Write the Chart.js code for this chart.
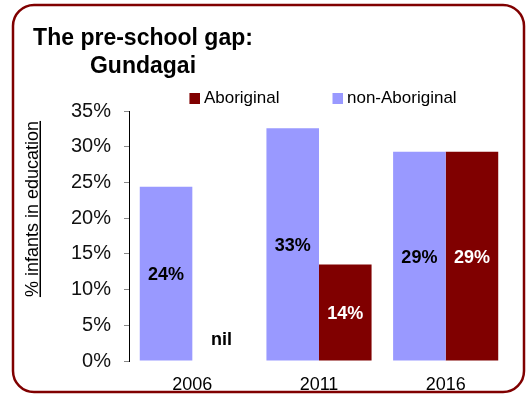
<!DOCTYPE html>
<html><head><meta charset="utf-8">
<script src="https://cdn.jsdelivr.net/npm/chart.js@4"></script>
<style>html,body{margin:0;padding:0;background:#fff;overflow:hidden}canvas{display:block}</style>
</head><body>
<canvas id="c" width="531" height="394"></canvas>
<script>
const titleLines = ['The pre-school gap:', 'Gundagai'];
const axisTitle = '% infants in education';
const categories = ['2006', '2011', '2016'];
const seriesNames = ['non-Aboriginal', 'Aboriginal'];
const nonAboriginal = [24.4, 32.6, 29.3];
const aboriginal = [0, 13.5, 29.3];
const nonAboriginalLabels = ['24%', '33%', '29%'];
const aboriginalLabels = ['nil', '14%', '29%'];
const yTickLabels = ['0%', '5%', '10%', '15%', '20%', '25%', '30%', '35%'];
const seriesColors = ['#9999FF', '#800000'];

const FONT = '"Liberation Sans", Arial, Helvetica, sans-serif';
Chart.defaults.font.family = FONT;
Chart.defaults.color = '#000';

function swatch(color) {
  const c = document.createElement('canvas');
  c.width = 24; c.height = 11;
  const g = c.getContext('2d');
  g.fillStyle = color;
  g.fillRect(13, 0, 11, 11);
  return c;
}

const frame = {
  id: 'frame',
  beforeDraw(chart) {
    const ctx = chart.ctx;
    ctx.save();
    ctx.fillStyle = '#fff';
    ctx.fillRect(0, 0, chart.width, chart.height);
    ctx.restore();
  },
  afterDraw(chart) {
    const ctx = chart.ctx;
    ctx.save();
    ctx.strokeStyle = '#800000';
    ctx.lineWidth = 2.5;
    ctx.beginPath();
    ctx.roundRect(13, 5, 511, 387, 21);
    ctx.stroke();
    // title
    ctx.fillStyle = '#000';
    ctx.font = 'bold 23px ' + FONT;
    ctx.textAlign = 'center';
    ctx.textBaseline = 'alphabetic';
    ctx.fillText(titleLines[0], 143, 45);
    ctx.fillText(titleLines[1], 143, 73);
    // y axis title, underlined
    ctx.font = '18px ' + FONT;
    ctx.translate(38, 209);
    ctx.rotate(-Math.PI / 2);
    ctx.fillText(axisTitle, 0, 0);
    const w = ctx.measureText(axisTitle).width;
    ctx.fillRect(-w / 2, 1.5, w, 1.5);
    ctx.restore();
  }
};

const valueLabels = {
  id: 'valueLabels',
  afterDatasetsDraw(chart) {
    const ctx = chart.ctx;
    const sets = [nonAboriginalLabels, aboriginalLabels];
    ctx.save();
    ctx.font = 'bold 18px ' + FONT;
    ctx.textAlign = 'center';
    ctx.textBaseline = 'middle';
    chart.data.datasets.forEach((ds, di) => {
      const meta = chart.getDatasetMeta(di);
      meta.data.forEach((bar, i) => {
        const txt = sets[di][i];
        if (ds.data[i] === 0) {
          ctx.fillStyle = '#000';
          ctx.fillText(txt, bar.x + 3, bar.base - 21);
        } else {
          ctx.fillStyle = di === 1 ? '#fff' : '#000';
          ctx.fillText(txt, bar.x, (bar.y + bar.base) / 2 + 1.5);
        }
      });
    });
    ctx.restore();
  }
};

new Chart(document.getElementById('c'), {
  type: 'bar',
  data: {
    labels: categories,
    datasets: [
      { label: seriesNames[0], data: nonAboriginal, backgroundColor: seriesColors[0], categoryPercentage: 0.83, barPercentage: 1 },
      { label: seriesNames[1], data: aboriginal, backgroundColor: seriesColors[1], categoryPercentage: 0.83, barPercentage: 1 }
    ]
  },
  options: {
    responsive: false,
    animation: false,
    layout: { padding: { top: 45, left: 29, right: 22, bottom: 0 } },
    plugins: {
      tooltip: { enabled: false },
      title: { display: false },
      legend: {
        display: true,
        position: 'top',
        align: 'center',
        fullSize: false,
        reverse: true,
        maxHeight: 66,
        labels: {
          usePointStyle: true,
          pointStyleWidth: 14,
          boxHeight: 11,
          padding: 45,
          color: '#000',
          font: { family: FONT, size: 17 },
          generateLabels(chart) {
            const items = Chart.defaults.plugins.legend.labels.generateLabels(chart);
            items.forEach(it => { it.pointStyle = swatch(seriesColors[it.datasetIndex]); });
            return items;
          }
        }
      }
    },
    scales: {
      x: {
        grid: { display: false, drawTicks: false },
        border: { display: false },
        ticks: { padding: 13, color: '#000', font: { size: 18 } },
        afterFit(s) { s.height = 33; }
      },
      y: {
        min: 0, max: 35,
        grid: { drawOnChartArea: false, drawTicks: true, tickLength: 5, color: '#888' },
        border: { display: true, color: '#000', width: 1 },
        ticks: {
          stepSize: 5, padding: 13, color: '#111', font: { size: 20 },
          callback: (v) => yTickLabels[Math.round(v / 5)]
        },
        afterFit(s) { s.width = 100; }
      }
    }
  },
  plugins: [frame, valueLabels]
});
</script>
</body></html>
